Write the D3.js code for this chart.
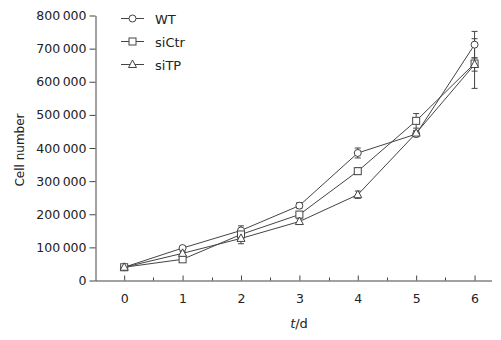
<!DOCTYPE html>
<html><head><meta charset="utf-8">
<script src="https://cdn.jsdelivr.net/npm/d3@7"></script>
<style>body{margin:0;background:#fff}svg text{font-family:"DejaVu Sans",Verdana,sans-serif;fill:#222}</style>
</head><body><svg id="c" width="501" height="340"></svg>
<script>
const days = [0,1,2,3,4,5,6];
const wt = [40000, 98000, 151000, 226000, 385000, 442000, 712000];
const wtErr = [4000, 5000, 14000, 9000, 15000, 8000, 40000];
const siCtr = [40000, 64000, 139000, 199000, 330000, 482000, 655000];
const siCtrErr = [4000, 4000, 10000, 9000, 10000, 22000, 75000];
const siTP = [40000, 82000, 127000, 178000, 259000, 445000, 652000];
const siTPErr = [4000, 5000, 16000, 8000, 11000, 8000, 20000];
const seriesNames = ["WT", "siCtr", "siTP"];
const yTicks = [0,100000,200000,300000,400000,500000,600000,700000,800000];
const xTicks = [0,1,2,3,4,5,6];

const svg = d3.select("#c");
const x = d3.scaleLinear().domain([-0.5, 6.29]).range([95, 491.5]);
const y = d3.scaleLinear().domain([0, 800000]).range([280.5, 15.5]);
const fmt = v => v === 0 ? "0" : d3.format(",")(v).replace(/,/g, "\u2009");
const stroke = "#444";

// axes
const ya = svg.append("g").attr("transform","translate(95.5,0)")
  .call(d3.axisLeft(y).tickValues(yTicks).tickFormat(fmt).tickSize(6).tickSizeOuter(0));
ya.select(".domain").attr("stroke",stroke);
ya.selectAll(".tick line").attr("stroke",stroke);
ya.selectAll("text").attr("font-size",12.5).attr("x",-9).attr("fill","#222");

const xa = svg.append("g").attr("transform","translate(0,280.5)")
  .call(d3.axisBottom(x).tickValues(xTicks).tickFormat(d3.format("d")).tickSize(-5).tickSizeOuter(0).tickPadding(14));
xa.select(".domain").attr("stroke",stroke);
xa.selectAll(".tick line").attr("stroke",stroke);
xa.selectAll("text").attr("font-size",12.5).attr("fill","#222");
const minor = [0.5,1.5,2.5,3.5,4.5,5.5];
svg.append("g").selectAll("line").data(minor).join("line")
  .attr("x1",d=>Math.round(x(d))+0.5).attr("x2",d=>Math.round(x(d))+0.5)
  .attr("y1",280.5).attr("y2",277.5).attr("stroke",stroke);

// labels
svg.append("text").attr("transform","translate(24,150) rotate(-90)")
  .attr("text-anchor","middle").attr("font-size",12).text("Cell number");
const xl = svg.append("text").attr("x",299).attr("y",328).attr("text-anchor","middle").attr("font-size",13);
xl.append("tspan").attr("font-style","italic").text("t");
xl.append("tspan").text("/d");

// markers
function marker(g, type, cx, cy) {
  if (type === 0) g.append("circle").attr("cx",cx).attr("cy",cy).attr("r",3.5);
  else if (type === 1) g.append("rect").attr("x",cx-3.5).attr("y",cy-3.5).attr("width",7).attr("height",7);
  else g.append("path").attr("d",`M${cx},${cy-4.5}L${cx+4},${cy+3}L${cx-4},${cy+3}Z`);
}
const data = [[wt,wtErr],[siCtr,siCtrErr],[siTP,siTPErr]];
const line = d3.line().x((d,i)=>x(days[i])).y(d=>y(d));
data.forEach(([vals, errs], s) => {
  svg.append("path").attr("d", line(vals)).attr("fill","none").attr("stroke",stroke).attr("stroke-width",1);
  const eg = svg.append("g").attr("stroke",stroke).attr("stroke-width",1);
  vals.forEach((v,i)=>{
    const cx = x(days[i]);
    eg.append("line").attr("x1",cx).attr("x2",cx).attr("y1",y(v-errs[i])).attr("y2",y(v+errs[i]));
    eg.append("line").attr("x1",cx-3).attr("x2",cx+3).attr("y1",y(v-errs[i])).attr("y2",y(v-errs[i]));
    eg.append("line").attr("x1",cx-3).attr("x2",cx+3).attr("y1",y(v+errs[i])).attr("y2",y(v+errs[i]));
  });
});
data.forEach(([vals], s) => {
  const mg = svg.append("g").attr("fill","#fff").attr("stroke",stroke).attr("stroke-width",1);
  vals.forEach((v,i)=>marker(mg, s, x(days[i]), y(v)));
});

// legend
const legY = [18.5, 41.5, 64.5];
seriesNames.forEach((n,s)=>{
  const g = svg.append("g").attr("fill","#fff").attr("stroke",stroke);
  g.append("line").attr("x1",121).attr("x2",144).attr("y1",legY[s]).attr("y2",legY[s]);
  marker(g, s, 132.5, legY[s]);
  svg.append("text").attr("x",155).attr("y",legY[s]+5).attr("font-size",13).text(n);
});
</script></body></html>
